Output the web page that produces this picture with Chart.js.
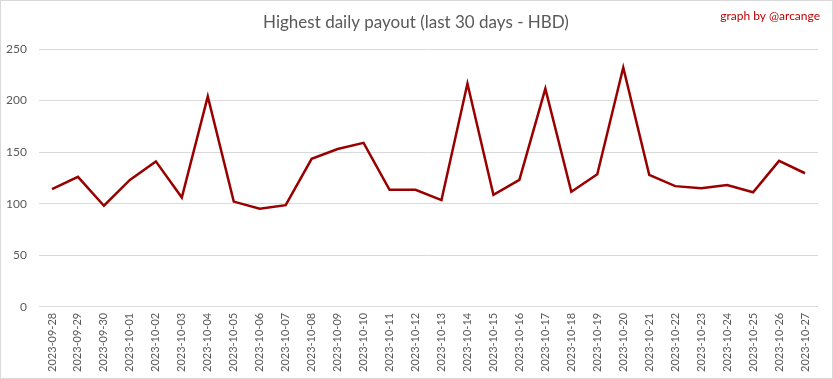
<!DOCTYPE html>
<html>
<head>
<meta charset="utf-8">
<script src="https://cdn.jsdelivr.net/npm/chart.js@4.4.0/dist/chart.umd.min.js"></script>
<style>
  html, body { margin: 0; padding: 0; background: #fff; }
  #wrap { width: 833px; height: 379px; box-sizing: border-box; border: 1px solid #d9d9d9; position: relative; }
  canvas { display: block; }
</style>
</head>
<body>
<div id="wrap"><canvas id="c" width="831" height="377"></canvas></div>
<script>
const titleText = 'Highest daily payout (last 30 days - HBD)';
const creditText = 'graph by @arcange';
const categories = [
  '2023-09-28','2023-09-29','2023-09-30','2023-10-01','2023-10-02','2023-10-03','2023-10-04',
  '2023-10-05','2023-10-06','2023-10-07','2023-10-08','2023-10-09','2023-10-10','2023-10-11',
  '2023-10-12','2023-10-13','2023-10-14','2023-10-15','2023-10-16','2023-10-17','2023-10-18',
  '2023-10-19','2023-10-20','2023-10-21','2023-10-22','2023-10-23','2023-10-24','2023-10-25',
  '2023-10-26','2023-10-27'
];
const payout = [
  114, 126, 98, 123, 141, 106, 204,
  102, 95, 98.5, 143.5, 153, 159, 113.5,
  113.5, 103.5, 216.5, 108.5, 123, 211.5, 111.5,
  128.5, 232, 128, 117, 115, 118, 111,
  141.5, 129.5
];
const yTicks = [0, 50, 100, 150, 200, 250];

const textPlugin = {
  id: 'texts',
  afterDraw(chart) {
    const ctx = chart.ctx;
    ctx.save();
    ctx.textBaseline = 'middle';
    ctx.textAlign = 'center';
    ctx.fillStyle = '#595959';
    ctx.font = '17px Lato';
    ctx.fillText(titleText, 415, 22);
    ctx.textAlign = 'right';
    ctx.fillStyle = '#c00000';
    ctx.font = '12px Lato';
    ctx.fillText(creditText, 819, 15);
    ctx.restore();
  }
};

new Chart(document.getElementById('c'), {
  type: 'line',
  data: {
    labels: categories,
    datasets: [{
      data: payout,
      borderColor: '#990000',
      borderWidth: 2.5,
      pointRadius: 0,
      tension: 0,
      fill: false
    }]
  },
  options: {
    responsive: false,
    animation: false,
    layout: { padding: { left: 0, right: 14, top: 48, bottom: 0 } },
    plugins: { legend: { display: false }, title: { display: false }, tooltip: { enabled: false } },
    scales: {
      x: {
        offset: true,
        grid: { display: false, drawTicks: false },
        border: { display: false },
        ticks: { color: '#595959', font: { family: 'Lato', size: 11 }, minRotation: 90, maxRotation: 90, autoSkip: false, padding: 6 }
      },
      y: {
        min: 0, max: 250,
        afterBuildTicks(scale) { scale.ticks = yTicks.map(v => ({ value: v })); },
        afterFit(scale) { scale.width = 38; },
        grid: { color: '#d9d9d9', drawTicks: false, lineWidth: 1 },
        border: { display: false },
        ticks: { color: '#595959', font: { family: 'Lato', size: 12 }, padding: 12 }
      }
    }
  },
  plugins: [textPlugin]
});
</script>
</body>
</html>
